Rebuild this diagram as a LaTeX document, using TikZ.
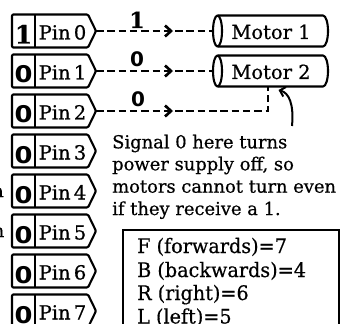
\documentclass[tikz,border=0pt]{standalone}
\usepackage{fontspec}
\setmainfont{DejaVu Serif}[FakeBold=0.6]
\newfontfamily\keyfont{DejaVu Serif}[FakeStretch=0.96, FakeBold=0.5]
\newfontfamily\bsans{DejaVu Sans}
\usetikzlibrary{arrows.meta}
\begin{document}
\begin{tikzpicture}[x=1pt,y=-1pt,
  outl/.style={line width=2.1pt, line join=round},
  dline/.style={line width=2.9pt, dash pattern=on 7.5pt off 3.8pt},
  chevline/.style={line width=2.7pt, line join=miter, line cap=butt},
  pintext/.style={font=\fontsize{19.5}{19.5}\selectfont, inner sep=0pt, anchor=base west},
  bodytext/.style={font=\fontsize{17.9}{17.9}\selectfont, inner sep=0pt, anchor=base west},
  keytext/.style={font=\keyfont\fontsize{20}{20}\selectfont, inner sep=0pt, anchor=base west},
  siglabel/.style={inner sep=0pt, anchor=base},
]
\useasboundingbox (0,0) rectangle (363,323);
\clip (0,0) rectangle (363,323);

% pins
\foreach \i [evaluate=\i as \t using 14.5+40*\i, evaluate=\i as \c using 31+40*\i] in {0,...,7} {
  \draw[outl, rounded corners=1.2pt] (12,\t) -- (88,\t) -- (96,\c) -- (88,{\t+33}) -- (12,{\t+33}) -- cycle;
  \draw[outl] (35,\t) -- (35,{\t+33});
  \node[pintext] (p\i) at (38.5,{\c+8.5}) {Pin\,\i};
  \coordinate (t\i) at (96,\c);
}
\node[siglabel, font=\fontsize{25}{25}\selectfont\bfseries] (d0) at (23.5,43.5) {1};
\foreach \i [evaluate=\i as \c using 31+40*\i] in {1,...,7} {
  \node[siglabel, font=\bsans\bfseries\fontsize{23}{23}\selectfont] (d\i) at (23.5,{\c+12}) {\scalebox{1.12}[1]{0}};
}

% motors
\foreach \j/\c in {1/31,2/71} {
  \draw[outl] (217.5,\c) ellipse [x radius=4.5, y radius=15.5];
  \draw[outl] (217.5,{\c-15.5}) -- (323,{\c-15.5}) arc[start angle=-90, end angle=90, x radius=5, y radius=15.5] -- (217.5,{\c+15.5});
  \node[pintext, anchor=base] (m\j) at (271,{\c+8}) {Motor \j};
  \coordinate (in\j) at (213,\c);
}
\coordinate (in3) at (268,86.5);

% connectors
\coordinate (a0) at (171,31);
\coordinate (a1) at (171,71);
\coordinate (a2) at (171,111);
\coordinate (c2) at (268,111);
\draw[dline] (t0) -- (a0) -- (in1);
\draw[dline] (t1) -- (a1) -- (in2);
\draw[dline, line join=miter] (t2) -- (a2) -- (c2) -- (in3);
\foreach \k in {0,1,2} {
  \draw[chevline] (a\k) ++(-6,-5.5) -- (a\k) -- ++(-6,5.5);
}

\node[siglabel, font=\fontsize{22}{22}\selectfont\bfseries] (v0) at (137,28) {1};
\node[siglabel, font=\bsans\bfseries\fontsize{20}{20}\selectfont] (v1) at (137,67) {0};
\node[siglabel, font=\bsans\bfseries\fontsize{20}{20}\selectfont] (v2) at (138,107) {0};

% note
\node[bodytext] (s1) at (112,148.3) {Signal 0 here turns};
\node[bodytext] (s2) at (112,170.3) {power supply off, so};
\node[bodytext] (s3) at (112,192.7) {motors cannot turn even};
\node[bodytext] (s4) at (112,215) {if they receive a 1.};
\coordinate (arrS) at (292,126);
\coordinate (arrE) at (278.5,90);
\draw[line width=2pt, -{Straight Barb[length=5pt,width=10pt,line width=2pt]}] (arrS) .. controls (294,104) and (289,93) .. (arrE);

% key box
\draw[line width=2.4pt] (123,330) -- (123,230) -- (339,230) -- (339,330);
\node[keytext] (f1) at (137,253) {F (forwards)=7};
\node[keytext] (f2) at (137,277) {B (backwards)=4};
\node[keytext] (f3) at (137,300) {R (right)=6};
\node[keytext] (f4) at (137,323.5) {L (left)=5};

% clipped letters at the left edge
\node[bodytext, anchor=base east] (x1) at (4,197) {a};
\node[bodytext, anchor=base east] (x2) at (4.5,237) {n};
\end{tikzpicture}
\end{document}
